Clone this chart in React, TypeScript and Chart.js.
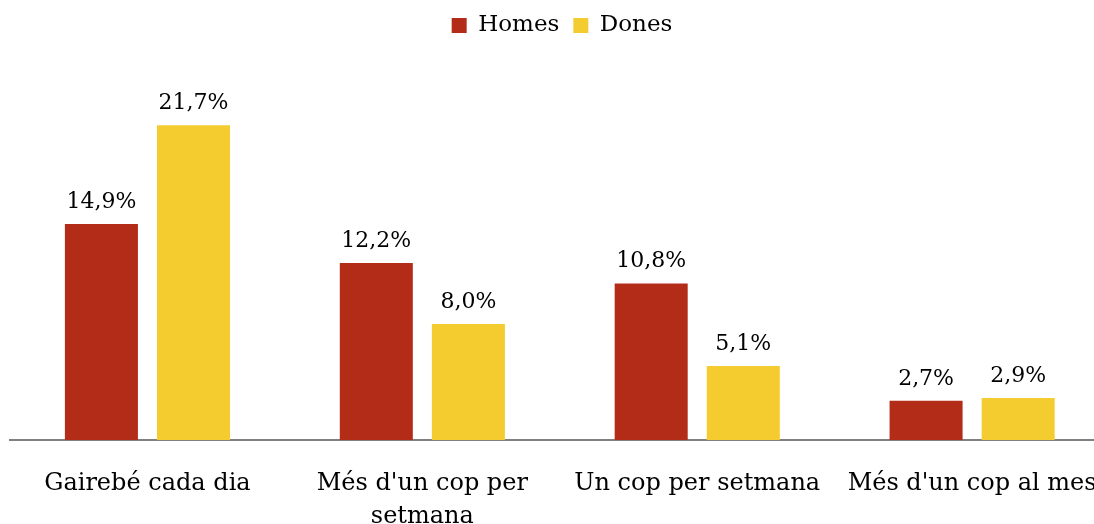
import React, { useEffect, useRef } from "react";
import { Chart, registerables } from "chart.js";

Chart.register(...registerables);

const categories: (string | string[])[] = [
  "Gairebé cada dia",
  ["Més d'un cop per", "setmana"],
  "Un cop per setmana",
  "Més d'un cop al mes",
];
const homes = [14.9, 12.2, 10.8, 2.7];
const dones = [21.7, 8.0, 5.1, 2.9];
const seriesNames = ["Homes", "Dones"];

const FONT = "'DejaVu Serif', serif";

const valueLabels = {
  id: "valueLabels",
  afterDatasetsDraw(chart: any) {
    const ctx = chart.ctx;
    ctx.save();
    ctx.font = `22px ${FONT}`;
    ctx.fillStyle = "#000";
    ctx.textAlign = "center";
    ctx.textBaseline = "alphabetic";
    chart.data.datasets.forEach((ds: any, i: number) => {
      const meta = chart.getDatasetMeta(i);
      meta.data.forEach((bar: any, j: number) => {
        const v = ds.data[j] as number;
        const txt = v.toFixed(1).replace(".", ",") + "%";
        ctx.fillText(txt, bar.x, bar.y - 16);
      });
    });
    ctx.restore();
  },
};

export default function App() {
  const ref = useRef<HTMLCanvasElement | null>(null);
  useEffect(() => {
    document.body.style.margin = "0";
    const canvas = ref.current!;
    const chart = new Chart(canvas, {
      type: "bar",
      data: {
        labels: categories,
        datasets: [
          {
            label: seriesNames[0],
            data: homes,
            backgroundColor: "#B22C17",
            categoryPercentage: 0.67,
            barPercentage: 0.793,
          },
          {
            label: seriesNames[1],
            data: dones,
            backgroundColor: "#F4CC30",
            categoryPercentage: 0.67,
            barPercentage: 0.793,
          },
        ],
      },
      options: {
        responsive: false,
        animation: false,
        layout: { padding: { left: 10, right: 11, top: 0, bottom: 0 } },
        plugins: {
          legend: {
            position: "top",
            labels: {
              font: { family: FONT, size: 23 },
              color: "#000",
              boxWidth: 15,
              boxHeight: 15,
              padding: 14,
            },
          },
          tooltip: { enabled: false },
        },
        scales: {
          x: {
            grid: { display: false, drawTicks: false },
            border: { display: true, color: "#808080", width: 2 },
            ticks: {
              color: "#000",
              font: { family: FONT, size: 24, lineHeight: 1.375 },
              padding: 27,
              maxRotation: 0,
              autoSkip: false,
            },
          },
          y: {
            display: false,
            min: 0,
            max: 27.1,
          },
        },
      },
      plugins: [valueLabels],
    });
    return () => chart.destroy();
  }, []);
  return (
    <div style={{ width: 1094, height: 524, overflow: "hidden", position: "relative" }}>
      <canvas ref={ref} width={1125} height={560} style={{ display: "block" }} />
    </div>
  );
}
